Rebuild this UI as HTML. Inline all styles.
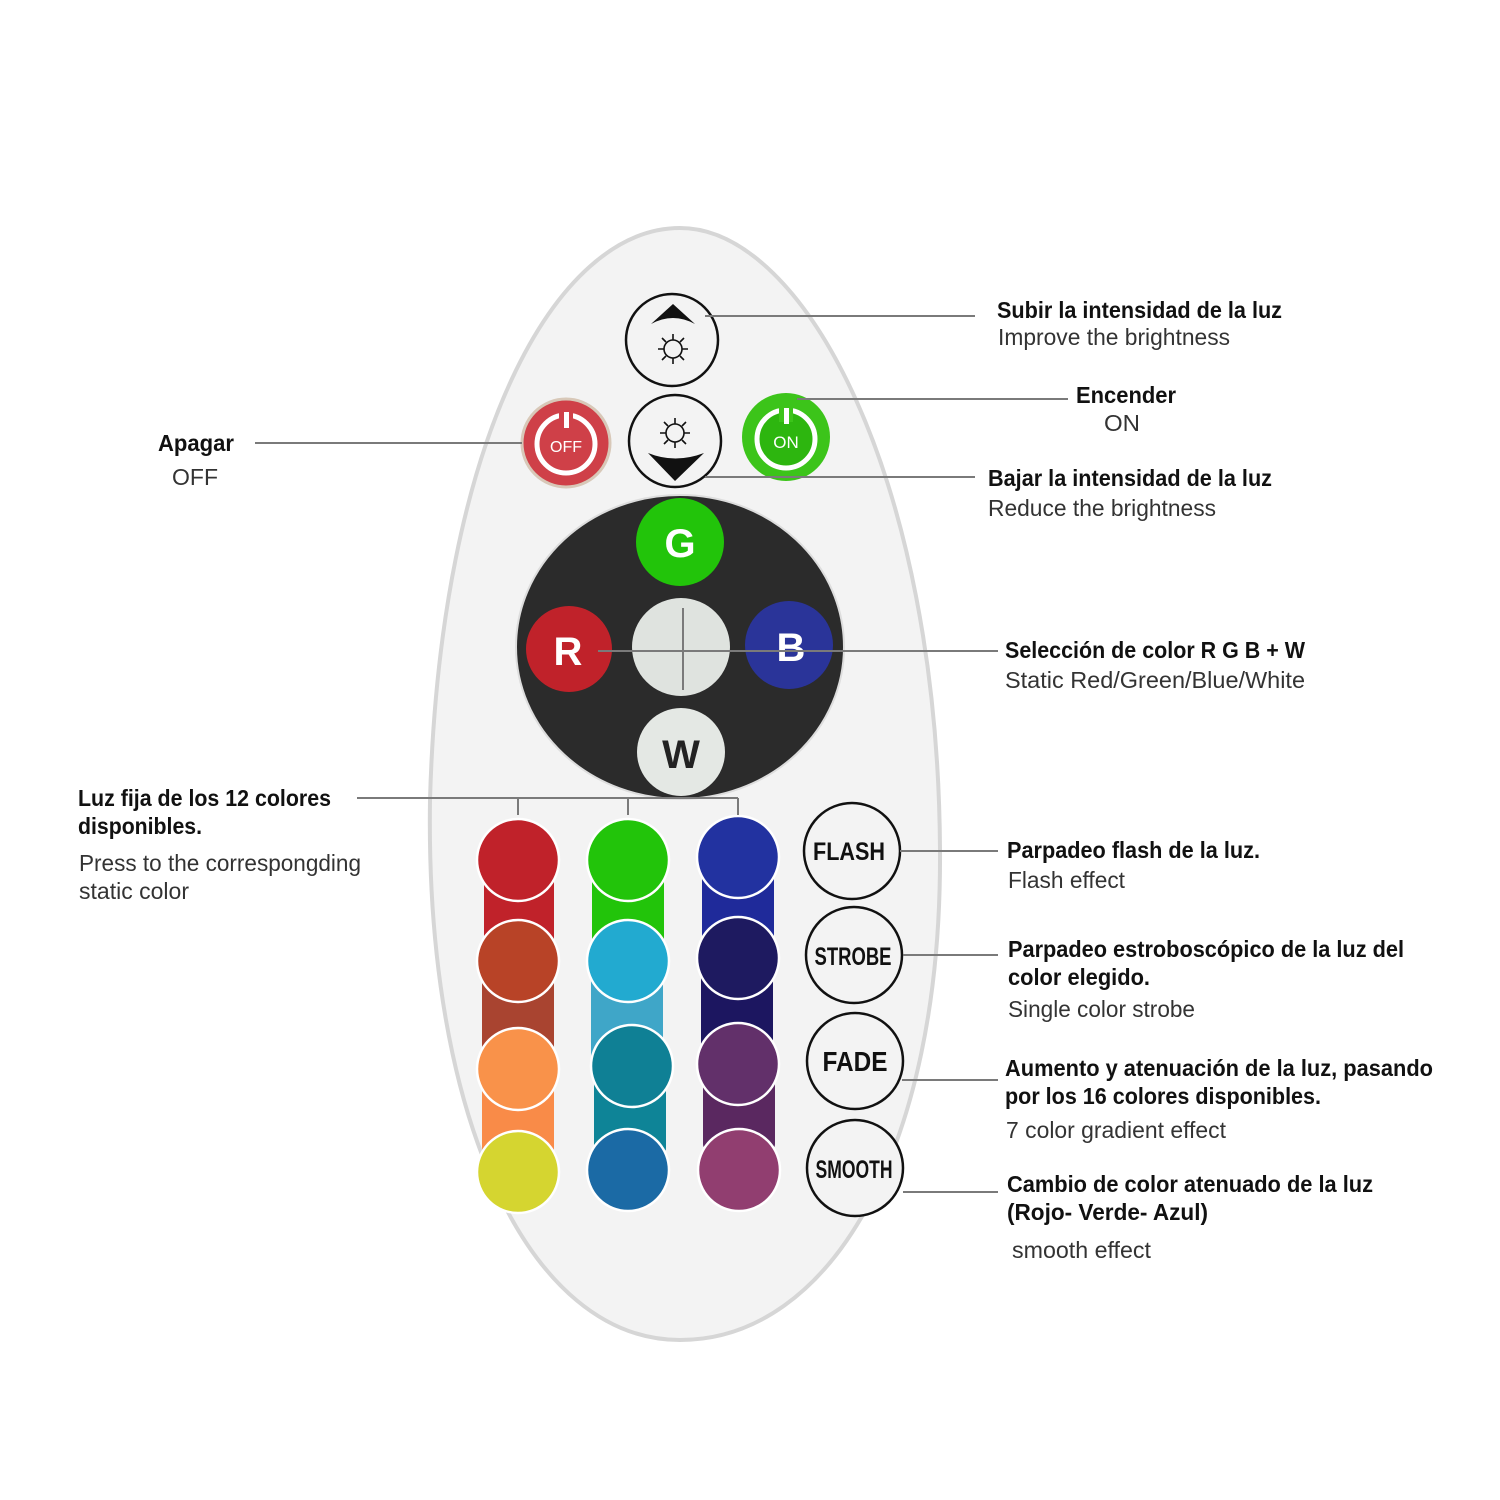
<!DOCTYPE html>
<html><head><meta charset="utf-8"><style>html,body{margin:0;padding:0;background:#fff}svg{display:block}</style></head>
<body>
<svg width="1500" height="1500" viewBox="0 0 1500 1500" xmlns="http://www.w3.org/2000/svg" font-family="Liberation Sans, sans-serif">
<rect width="1500" height="1500" fill="#fff"/>
<path d="M680,228 C555,228 440,440 430,800 C425,1120 530,1340 680,1340 C830,1340 942,1150 940,850 C938,480 805,228 680,228 Z" fill="#f3f3f3" stroke="#d6d6d6" stroke-width="4"/>
<!-- up button -->
<circle cx="672" cy="340" r="46" fill="#f3f3f3" stroke="#111" stroke-width="2.5"/>
<path d="M651,324 L673,304 L695,324 Q673,312 651,324Z" fill="#111"/>
<g stroke="#111" stroke-width="1.6" fill="none"><circle cx="673" cy="349" r="9"/>
<path d="M673,334v6M673,358v6M658,349h6M682,349h6M662,338l4,4M680,356l4,4M684,338l-4,4M666,356l-4,4"/></g>
<!-- down button -->
<circle cx="675" cy="441" r="46" fill="#f3f3f3" stroke="#111" stroke-width="2.5"/>
<path d="M648,453 Q675,464 704,453 L675,481Z" fill="#111"/>
<g stroke="#111" stroke-width="1.6" fill="none"><circle cx="675" cy="433" r="9"/>
<path d="M675,418v6M675,442v6M660,433h6M684,433h6M664,422l4,4M682,440l4,4M686,422l-4,4M668,440l-4,4"/></g>
<!-- OFF -->
<circle cx="566" cy="443" r="44" fill="#cf4048" stroke="#d8c8b8" stroke-width="3"/>
<circle cx="566" cy="444" r="29" fill="none" stroke="#fff" stroke-width="5"/>
<rect x="559" y="408" width="14" height="18" fill="#cf4048"/><rect x="564" y="412" width="5" height="16" fill="#fff"/>
<text x="566" y="452" font-size="16" fill="#fff" text-anchor="middle">OFF</text>
<!-- ON -->
<circle cx="786" cy="437" r="44" fill="#3cc41a"/>
<circle cx="786" cy="439" r="29" fill="#2db60f" stroke="#fff" stroke-width="5"/>
<rect x="779" y="404" width="14" height="18" fill="#3cc41a"/><rect x="784" y="408" width="5" height="16" fill="#fff"/>
<text x="786" y="448" font-size="17" fill="#fff" text-anchor="middle">ON</text>
<!-- dark circle -->
<ellipse cx="680" cy="647" rx="164" ry="152" fill="#2b2b2b" stroke="#ddd" stroke-width="2"/>
<circle cx="680" cy="542" r="44" fill="#22c40a"/><text x="680" y="557" font-size="40" font-weight="bold" fill="#fff" text-anchor="middle">G</text>
<circle cx="569" cy="649" r="43" fill="#c0222a"/><text x="568" y="665" font-size="40" font-weight="bold" fill="#fff" text-anchor="middle">R</text>
<circle cx="789" cy="645" r="44" fill="#2a3499"/><text x="791" y="661" font-size="40" font-weight="bold" fill="#fff" text-anchor="middle">B</text>
<circle cx="681" cy="752" r="44" fill="#e4e8e4"/><text x="681" y="768" font-size="40" font-weight="bold" fill="#222" text-anchor="middle">W</text>
<circle cx="681" cy="647" r="49" fill="#dfe3df"/>
<!-- colour bars -->
<rect x="484" y="860" width="70" height="300" rx="8" fill="#c0222a"/>
<rect x="482" y="960" width="72" height="110" fill="#a94430"/>
<rect x="482" y="1069" width="72" height="90" rx="8" fill="#f98b48"/>
<rect x="592" y="860" width="72" height="100" fill="#22c40a"/>
<rect x="591" y="960" width="72" height="110" fill="#3fa6c8"/>
<rect x="594" y="1066" width="72" height="90" rx="8" fill="#0e8497"/>
<rect x="702" y="856" width="72" height="104" fill="#1f2a9a"/>
<rect x="701" y="958" width="72" height="110" fill="#1c1660"/>
<rect x="703" y="1064" width="72" height="88" rx="8" fill="#5a2860"/>
<g stroke="#fff" stroke-width="2.5">
<circle cx="518" cy="860" r="41" fill="#c0222a"/>
<circle cx="518" cy="961" r="41" fill="#b84327"/>
<circle cx="518" cy="1069" r="41" fill="#f9924a"/>
<circle cx="518" cy="1172" r="41" fill="#d5d530"/>
<circle cx="628" cy="860" r="41" fill="#22c40a"/>
<circle cx="628" cy="961" r="41" fill="#22aad0"/>
<circle cx="632" cy="1066" r="41" fill="#0f8095"/>
<circle cx="628" cy="1170" r="41" fill="#1b6aa5"/>
<circle cx="738" cy="857" r="41" fill="#2232a0"/>
<circle cx="738" cy="958" r="41" fill="#1e1a60"/>
<circle cx="738" cy="1064" r="41" fill="#62306a"/>
<circle cx="739" cy="1170" r="41" fill="#913e70"/>
</g>
<!-- effect buttons -->
<g fill="#f3f3f3" stroke="#111" stroke-width="2.5">
<circle cx="852" cy="851" r="48"/><circle cx="854" cy="955" r="48"/><circle cx="855" cy="1061" r="48"/><circle cx="855" cy="1168" r="48"/>
</g>
<g font-weight="bold" fill="#111" text-anchor="middle">
<text x="849" y="860" font-size="25" textLength="72" lengthAdjust="spacingAndGlyphs">FLASH</text>
<text x="853" y="965" font-size="25" textLength="77" lengthAdjust="spacingAndGlyphs">STROBE</text>
<text x="855" y="1071" font-size="28" textLength="65" lengthAdjust="spacingAndGlyphs">FADE</text>
<text x="854" y="1178" font-size="25" textLength="77" lengthAdjust="spacingAndGlyphs">SMOOTH</text>
</g>
<!-- connector lines -->
<g stroke="#7a7a7a" stroke-width="2" fill="none">
<path d="M705,316H975M797,399H1068M705,477H975M255,443H522M598,651H998M683,608V690"/>
<path d="M357,798H738M518,798V815M628,798V815M738,798V815"/>
<path d="M900,851H998M903,955H998M902,1080H998M903,1192H998"/>
</g>
<!-- labels -->
<g font-size="23" fill="#111">
<text x="997" y="318" font-weight="bold" textLength="285" lengthAdjust="spacingAndGlyphs">Subir la intensidad de la luz</text>
<text x="998" y="345" fill="#333" textLength="232" lengthAdjust="spacingAndGlyphs">Improve the brightness</text>
<text x="1076" y="403" font-weight="bold" textLength="100" lengthAdjust="spacingAndGlyphs">Encender</text>
<text x="1104" y="431" fill="#333" textLength="36" lengthAdjust="spacingAndGlyphs">ON</text>
<text x="988" y="486" font-weight="bold" textLength="284" lengthAdjust="spacingAndGlyphs">Bajar la intensidad de la luz</text>
<text x="988" y="516" fill="#333" textLength="228" lengthAdjust="spacingAndGlyphs">Reduce  the brightness</text>
<text x="158" y="451" font-weight="bold" textLength="76" lengthAdjust="spacingAndGlyphs">Apagar</text>
<text x="172" y="485" fill="#333" textLength="46" lengthAdjust="spacingAndGlyphs">OFF</text>
<text x="1005" y="658" font-weight="bold" textLength="300" lengthAdjust="spacingAndGlyphs">Selección de color R G B + W</text>
<text x="1005" y="688" fill="#333" textLength="300" lengthAdjust="spacingAndGlyphs">Static Red/Green/Blue/White</text>
<text x="78" y="806" font-weight="bold" textLength="253" lengthAdjust="spacingAndGlyphs">Luz fija de los 12 colores</text>
<text x="78" y="834" font-weight="bold" textLength="124" lengthAdjust="spacingAndGlyphs">disponibles.</text>
<text x="79" y="871" fill="#333" textLength="282" lengthAdjust="spacingAndGlyphs">Press to the correspongding</text>
<text x="79" y="899" fill="#333" textLength="110" lengthAdjust="spacingAndGlyphs">static color</text>
<text x="1007" y="858" font-weight="bold" textLength="253" lengthAdjust="spacingAndGlyphs">Parpadeo flash de la luz.</text>
<text x="1008" y="888" fill="#333" textLength="117" lengthAdjust="spacingAndGlyphs">Flash effect</text>
<text x="1008" y="957" font-weight="bold" textLength="396" lengthAdjust="spacingAndGlyphs">Parpadeo estroboscópico de la luz del</text>
<text x="1008" y="985" font-weight="bold" textLength="142" lengthAdjust="spacingAndGlyphs">color elegido.</text>
<text x="1008" y="1017" fill="#333" textLength="187" lengthAdjust="spacingAndGlyphs">Single color strobe</text>
<text x="1005" y="1076" font-weight="bold" textLength="428" lengthAdjust="spacingAndGlyphs">Aumento y atenuación de la luz, pasando</text>
<text x="1005" y="1104" font-weight="bold" textLength="316" lengthAdjust="spacingAndGlyphs">por los 16 colores disponibles.</text>
<text x="1006" y="1138" fill="#333" textLength="220" lengthAdjust="spacingAndGlyphs">7 color gradient effect</text>
<text x="1007" y="1192" font-weight="bold" textLength="366" lengthAdjust="spacingAndGlyphs">Cambio de color atenuado de la luz</text>
<text x="1007" y="1220" font-weight="bold" textLength="201" lengthAdjust="spacingAndGlyphs">(Rojo- Verde- Azul)</text>
<text x="1012" y="1258" fill="#333" textLength="139" lengthAdjust="spacingAndGlyphs">smooth effect</text>
</g>
</svg>
</body></html>
